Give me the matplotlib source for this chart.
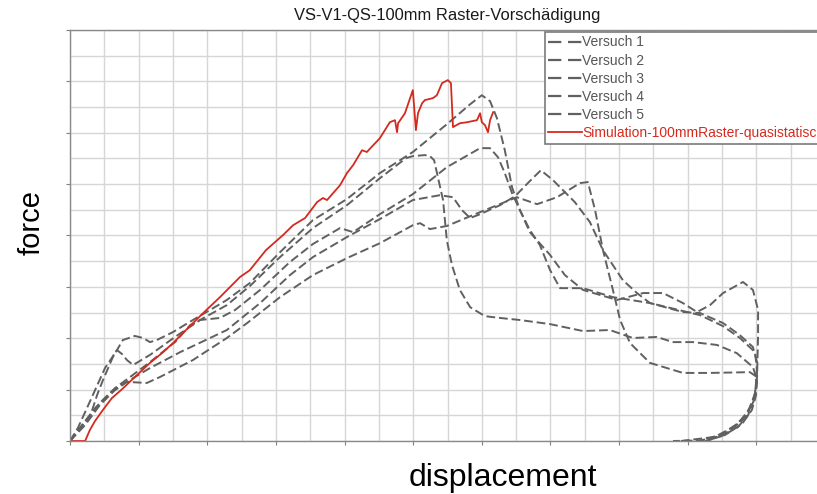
import matplotlib.pyplot as plt
from matplotlib.lines import Line2D
from matplotlib.ticker import MultipleLocator, NullFormatter

plt.rcParams['font.family'] = ['Liberation Sans', 'DejaVu Sans']

# test curves (displacement, force) in grid units
v1_x = [0, 0.29, 0.58, 0.79, 0.96, 1.25, 1.54, 1.89, 2.13, 2.33, 2.53, 3.00, 3.58, 4.08, 4.57,
        5.24, 6.12, 7.08, 8.07, 9.03, 9.99, 10.98, 11.66, 12.00, 12.24, 12.44, 12.67, 12.88,
        13.11, 13.40, 13.99, 14.42, 14.95, 15.94, 16.70, 17.28, 17.86, 18.27, 18.65, 19.03,
        19.61, 19.90, 20.05, 20.05, 20.02, 19.93, 19.76, 19.46, 19.00, 18.50]
v1_y = [0, 0.51, 0.93, 1.79, 2.37, 3.27, 3.93, 4.09, 4.01, 3.85, 3.93, 4.24, 4.71, 5.10, 5.49,
        6.15, 7.35, 8.60, 9.42, 10.43, 11.25, 12.33, 13.11, 13.46, 13.23, 12.57, 11.32, 9.88,
        8.99, 8.13, 7.24, 6.46, 5.88, 5.49, 5.76, 5.76, 5.37, 5.02, 5.29, 5.76,
        6.19, 5.88, 5.10, 4.12, 2.49, 1.60, 1.01, 0.54, 0.19, 0]

v2_x = [0, 0.23, 0.47, 0.73, 1.02, 1.37, 1.52, 1.66, 1.84, 2.33, 3.06, 3.79, 4.57, 5.24, 6.12,
        7.08, 8.07, 9.03, 9.79, 9.99, 10.34, 10.49, 10.61, 10.72, 10.87, 10.98, 11.13, 11.36,
        11.66, 12.09, 12.53, 13.11, 13.99, 14.95, 15.73, 16.40, 17.10, 17.57, 18.15, 18.85,
        19.43, 19.90, 20.02, 19.96, 19.76, 19.38, 18.79, 17.80]
v2_y = [0, 0.51, 1.21, 1.98, 2.84, 3.54, 3.38, 3.15, 2.96, 3.35, 4.05, 4.71, 5.29, 6.03, 7.16,
        8.29, 9.18, 10.23, 11.01, 11.09, 11.13, 11.09, 10.93, 10.27, 9.38, 7.82, 6.85, 5.88,
        5.21, 4.86, 4.79, 4.71, 4.55, 4.28, 4.32, 4.01, 4.05, 3.85, 3.85, 3.74,
        3.42, 2.88, 2.37, 1.67, 1.13, 0.58, 0.16, 0]

v3_x = [0, 0.44, 0.87, 1.31, 1.75, 2.33, 3.06, 3.50, 3.79, 4.37, 4.81, 5.54, 6.41, 7.08, 7.87,
        8.25, 9.03, 9.99, 10.98, 11.95, 12.24, 12.47, 12.67, 12.88, 13.11, 13.40, 13.69, 13.99,
        14.28, 14.95, 15.82, 16.90, 17.86, 18.36, 19.03, 19.52, 19.90, 20.02, 19.99, 19.81,
        19.52, 19.00, 18.36]
v3_y = [0, 0.74, 1.48, 2.06, 2.49, 3.07, 3.85, 4.51, 4.71, 4.79, 5.10, 5.88, 6.97, 7.67, 8.29,
        8.13, 8.83, 9.61, 10.66, 11.40, 11.40, 11.05, 10.43, 9.65, 8.99, 8.21, 7.63, 6.65,
        5.95, 5.95, 5.60, 5.37, 5.02, 4.98, 4.59, 4.12, 3.66, 3.07, 1.98, 1.28,
        0.74, 0.27, 0]

v4_x = [0, 0.35, 0.73, 1.17, 1.60, 2.33, 3.21, 4.08, 4.57, 5.54, 6.41, 7.08, 8.07, 9.03, 9.99,
        10.78, 11.16, 11.42, 11.66, 11.95, 12.53, 12.97, 13.40, 13.72, 14.07, 14.36, 14.71,
        15.15, 15.53, 16.11, 16.52, 16.90, 17.40, 17.86, 18.36, 19.03, 19.52, 19.96, 20.02,
        19.96, 19.67, 19.17, 18.65, 18.21]
v4_y = [0, 0.62, 1.28, 1.87, 2.26, 2.84, 3.46, 4.01, 4.32, 5.37, 6.46, 7.16, 7.94, 8.64, 9.38,
        9.57, 9.49, 8.99, 8.68, 8.83, 9.18, 9.53, 10.12, 10.54, 10.16, 9.77, 9.30,
        8.52, 7.43, 6.26, 5.76, 5.37, 5.21, 5.06, 4.90, 4.47, 4.01, 3.46, 2.76,
        1.79, 0.89, 0.35, 0.04, 0]

v5_x = [0, 0.44, 0.87, 1.31, 1.66, 2.24, 2.62, 3.58, 4.57, 5.16, 6.12, 7.08, 8.07, 9.03, 9.99,
        10.20, 10.49, 10.98, 11.95, 13.02, 13.61, 14.19, 14.86, 15.09, 15.30, 15.53, 15.82,
        16.03, 16.32, 16.90, 17.86, 18.65, 19.81, 20.02, 19.99, 19.87, 19.58, 19.08, 18.36, 17.57]
v5_y = [0, 0.62, 1.40, 1.98, 2.30, 2.26, 2.49, 3.15, 4.01, 4.59, 5.60, 6.46, 7.12, 7.70, 8.40,
        8.48, 8.25, 8.37, 8.91, 9.49, 9.22, 9.49, 10.04, 10.08, 8.99, 7.43, 5.88,
        4.71, 3.81, 3.04, 2.65, 2.65, 2.68, 2.49, 1.79, 1.21, 0.66, 0.23, 0.02, 0]

# simulation curve
sim_x = [0.06, 0.44, 0.58, 0.73, 0.96, 1.22, 1.52, 1.89, 2.33, 2.68, 3.00, 3.38, 3.88, 4.37,
         4.95, 5.24, 5.71, 6.21, 6.50, 6.85, 7.20, 7.37, 7.49, 7.87, 8.07, 8.25, 8.51, 8.65,
         9.03, 9.32, 9.47, 9.53, 9.56, 9.76, 9.99, 10.08, 10.14, 10.26, 10.34, 10.58, 10.69,
         10.84, 11.01, 11.10, 11.16, 11.36, 11.57, 11.86, 11.95, 12.00, 12.09, 12.18, 12.24, 12.33]
sim_y = [0, 0, 0.43, 0.78, 1.21, 1.67, 2.02, 2.49, 3.04, 3.42, 3.81, 4.32, 4.98, 5.60,
         6.38, 6.65, 7.43, 8.02, 8.40, 8.68, 9.30, 9.46, 9.38, 9.96, 10.43, 10.74, 11.32, 11.25,
         11.79, 12.41, 12.49, 12.02, 12.37, 12.76, 13.66, 12.10, 12.76, 13.15, 13.27, 13.35, 13.46,
         13.93, 14.05, 13.93, 12.22, 12.37, 12.41, 12.49, 12.76, 12.41, 12.30, 12.02, 12.49, 12.80]

labels = ['Versuch 1', 'Versuch 2', 'Versuch 3', 'Versuch 4', 'Versuch 5',
          'Simulation-100mmRaster-quasistatisch']

grey = '#606060'
red = '#d42a1e'

fig = plt.figure(figsize=(8.17, 4.94), dpi=100)
ax = fig.add_axes([70 / 817, 53 / 494, 755 / 817, 411 / 494])

curves = [(v1_x, v1_y), (v2_x, v2_y), (v3_x, v3_y), (v4_x, v4_y), (v5_x, v5_y)]
for xs, ys in curves:
    ax.plot(xs, ys, color=grey, lw=1.4, dashes=(4.5, 2.0), solid_joinstyle='round')
ax.plot(sim_x, sim_y, color=red, lw=1.3)

ax.set_xlim(0, 22)
ax.set_ylim(0, 16)
ax.xaxis.set_major_locator(MultipleLocator(2))
ax.xaxis.set_minor_locator(MultipleLocator(1))
ax.yaxis.set_major_locator(MultipleLocator(2))
ax.yaxis.set_minor_locator(MultipleLocator(1))
ax.xaxis.set_major_formatter(NullFormatter())
ax.yaxis.set_major_formatter(NullFormatter())
ax.tick_params(which='major', length=3, width=0.8, color='#808080', direction='out')
ax.tick_params(which='minor', length=0)
ax.grid(True, which='both', color='#d6d6d6', lw=1.0)
ax.set_axisbelow(True)
for side in ax.spines.values():
    side.set_color('#8a8a8a')
    side.set_linewidth(1.0)

ax.set_title('VS-V1-QS-100mm Raster-Vorschädigung', fontsize=11.9, color='#1a1a1a', pad=7.5)
fig.text(32 / 817, 1 - 222 / 494, 'force', rotation=90, ha='center', va='center', fontsize=21)
fig.text(503 / 817, 1 - 486 / 494, 'displacement', ha='center', va='baseline', fontsize=23)

handles = [Line2D([], [], color=grey, lw=1.6, dashes=(6, 3)) for _ in range(5)]
handles.append(Line2D([], [], color=red, lw=1.3))
leg = fig.legend(handles, labels, loc='upper left', bbox_to_anchor=(545 / 817, 1 - 32 / 494),
                 fontsize=10, frameon=True, fancybox=False, framealpha=1,
                 edgecolor='#7a7a7a', borderpad=0.25, labelspacing=0.3,
                 handlelength=2.4, handletextpad=0.03, borderaxespad=0)
leg.get_frame().set_linewidth(1.2)
for txt in leg.get_texts()[:5]:
    txt.set_color('#555555')
leg.get_texts()[5].set_color(red)

fig.savefig('out.png', dpi=100)
